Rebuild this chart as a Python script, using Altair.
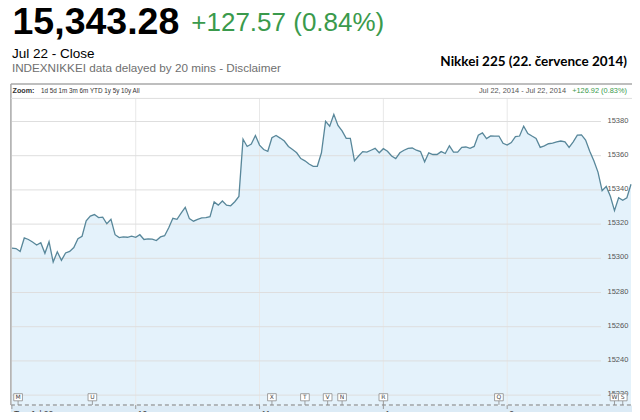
import altair as alt
import pandas as pd

# ---- data ----
# trading minutes since 09:00, lunch break 11:30-12:30 removed (300 trading minutes)
minutes = list(range(0, 302, 2))
values = [
    15305.9, 15305.7, 15304.0, 15311.9, 15311.0, 15309.5, 15307.8, 15309.1, 15302.9, 15309.7,
    15297.8, 15303.8, 15298.8, 15303.1, 15304.0, 15306.3, 15311.4, 15312.9, 15321.9, 15324.7,
    15325.6, 15323.8, 15324.1, 15320.2, 15322.8, 15313.8, 15312.1, 15312.5, 15312.3, 15312.9,
    15312.3, 15313.8, 15311.0, 15311.4, 15311.2, 15310.4, 15312.5, 15313.2, 15317.9, 15323.4,
    15322.8, 15326.4, 15329.8, 15323.2, 15321.7, 15322.8, 15323.6, 15323.8, 15324.3, 15333.0,
    15331.1, 15333.5, 15331.1, 15330.7, 15333.1, 15336.2, 15369.6, 15365.4, 15366.8, 15371.8,
    15366.2, 15363.6, 15362.6, 15370.5, 15371.8, 15370.3, 15368.6, 15365.4, 15363.6, 15361.7,
    15358.3, 15357.0, 15355.1, 15353.8, 15353.8, 15361.7, 15380.1, 15377.3, 15384.2, 15377.7,
    15374.5, 15370.1, 15370.1, 15357.0, 15359.8, 15362.4, 15362.1, 15363.2, 15364.3, 15361.7,
    15364.1, 15362.6, 15359.8, 15358.3, 15361.7, 15363.2, 15364.3, 15364.5, 15363.2, 15362.4,
    15356.4, 15361.7, 15360.7, 15360.7, 15362.4, 15361.3, 15365.8, 15362.1, 15362.1, 15364.9,
    15365.1, 15364.3, 15365.4, 15372.0, 15373.3, 15370.0, 15371.6, 15371.5, 15371.5, 15367.3,
    15366.2, 15367.7, 15371.1, 15371.5, 15377.3, 15373.0, 15371.5, 15370.1, 15364.9, 15365.8,
    15367.0, 15367.3, 15368.1, 15368.6, 15368.1, 15364.9, 15368.1, 15372.0, 15372.2, 15369.2,
    15362.6, 15357.0, 15350.4, 15339.5, 15342.0, 15336.3, 15327.9, 15335.4, 15333.9, 15335.4,
    15343.3,
]
y_ticks = [15220, 15240, 15260, 15280, 15300, 15320, 15340, 15360, 15380]
hour_minutes = [0, 60, 120, 180, 240]
hour_labels = ["Tue Jul 22", "10 am", "11 am", "1 pm", "2 pm"]
flag_letters = ["M", "U", "X", "T", "V", "N", "R", "Q", "W", "S"]
flag_minutes = [3, 39, 126, 142, 153, 160, 180, 236, 292, 296]
area_base = 15214

price_text = "15,343.28"
change_text = "+127.57 (0.84%)"
close_text = "Jul 22 - Close"
delay_text = "INDEXNIKKEI data delayed by 20 mins - Disclaimer"
caption_text = "Nikkei 225 (22. července 2014)"
zoom_label = "Zoom:"
zoom_items = "1d 5d 1m 3m 6m YTD 1y 5y 10y All"
range_text = "Jul 22, 2014  -  Jul 22, 2014"
range_change = "+126.92 (0.83%)"

# ---- styling ----
W, H = 624, 404
GREEN = "#3a9a4c"
xs = alt.Scale(domain=[0, 300], range=[3.9, 623.0], nice=False, zero=False)
ys = alt.Scale(domain=[15220, 15380], range=[387.1, 113.5], nice=False, zero=False)
one = pd.DataFrame({"k": [0]})


def label(text, x, y, size, color="#000", weight="normal", font="Liberation Sans", align="left"):
    return alt.Chart(pd.DataFrame({"s": [text]})).mark_text(
        align=align, baseline="alphabetic", font=font, fontSize=size,
        fontWeight=weight, color=color
    ).encode(x=alt.value(x), y=alt.value(y), text="s:N")


def hrule(x1, x2, y, color, width=1, dash=None):
    kw = dict(color=color, strokeWidth=width)
    if dash:
        kw["strokeDash"] = dash
    return alt.Chart(one).mark_rule(**kw).encode(x=alt.value(x1), x2=alt.value(x2), y=alt.value(y))


def vrule(x, y1, y2, color, width=1):
    return alt.Chart(one).mark_rule(color=color, strokeWidth=width).encode(
        x=alt.value(x), y=alt.value(y1), y2=alt.value(y2))


df = pd.DataFrame({"m": minutes, "v": values})
X = alt.X("m:Q", scale=xs, axis=None)
Yv = alt.Y("v:Q", scale=ys, axis=None)

area = alt.Chart(df).mark_area(color="#e4f2fb", opacity=1).encode(
    x=X, y=Yv, y2=alt.datum(area_base))
line = alt.Chart(df).mark_line(color="#58879a", strokeWidth=1.3).encode(x=X, y=Yv)

tick_df = pd.DataFrame({"t": y_ticks})
hgrid = alt.Chart(tick_df).mark_rule(color="#dedede", strokeWidth=1).encode(
    y=alt.Y("t:Q", scale=ys, axis=None), x=alt.value(3.9), x2=alt.value(593))
ylabels = alt.Chart(tick_df).mark_text(
    align="left", baseline="middle", font="Liberation Sans", fontSize=7.5, color="#555", dy=-1
).encode(y=alt.Y("t:Q", scale=ys, axis=None), x=alt.value(599.5), text=alt.Text("t:Q", format="d"))

hour_df = pd.DataFrame({"h": hour_minutes, "lab": hour_labels})
vgrid = alt.Chart(hour_df[hour_df.h > 0]).mark_rule(color="#e8e8e8").encode(
    x=alt.X("h:Q", scale=xs, axis=None), y=alt.value(90.4), y2=alt.value(397))

band = alt.Chart(one).mark_rect(color="#dcebf6").encode(
    x=alt.value(2.9), x2=alt.value(624), y=alt.value(397.5), y2=alt.value(404))
hour_ticks = alt.Chart(hour_df).mark_rule(color="#999").encode(
    x=alt.X("h:Q", scale=xs, axis=None), y=alt.value(397), y2=alt.value(401))
hour_text = alt.Chart(hour_df).mark_text(
    align="left", baseline="alphabetic", font="Liberation Sans", fontSize=8.5, color="#444", dx=2
).encode(x=alt.X("h:Q", scale=xs, axis=None), y=alt.value(408.5), text="lab:N")

flag_df = pd.DataFrame({"m": flag_minutes, "letter": flag_letters})
flag_box = alt.Chart(flag_df).transform_calculate(
    lo="datum.m - 2.1", hi="datum.m + 2.1"
).mark_rect(fill="white", stroke="#8a8a8a", strokeWidth=0.8).encode(
    x=alt.X("lo:Q", scale=xs, axis=None), x2="hi:Q", y=alt.value(385.7), y2=alt.value(392.8))
flag_stem = alt.Chart(flag_df).mark_rule(color="#8a8a8a", strokeWidth=0.8).encode(
    x=alt.X("m:Q", scale=xs, axis=None), y=alt.value(392.8), y2=alt.value(397))
flag_text = alt.Chart(flag_df).mark_text(
    font="DejaVu Sans", fontSize=6, color="#444", baseline="middle"
).encode(x=alt.X("m:Q", scale=xs, axis=None), y=alt.value(389.4), text="letter:N")

layers = [
    area, vgrid, hgrid, line, ylabels,
    band, hrule(2.9, 624, 397, "#7a7a7a", 1, [4, 3]), hour_ticks, hour_text,
    flag_stem, flag_box, flag_text,
    hrule(2.9, 624, 76, "#a8a8a8", 1.5),
    vrule(2.9, 76, 397, "#a8a8a8", 1.5),
    hrule(2.9, 624, 90.4, "#dddddd", 1),
    label(zoom_label, 4.5, 85.4, 7.2, "#333", "bold"),
    label(zoom_items, 33, 85.4, 6.3, "#333"),
    label(range_text, 558, 85.4, 7.4, "#555", align="right"),
    label(range_change, 619, 85.4, 7.4, GREEN, align="right"),
    label(price_text, 4.5, 25.7, 37.5, "#000", "bold"),
    label(change_text, 183.3, 23.1, 26, GREEN),
    label(close_text, 3.9, 49.7, 13.5, "#000"),
    label(delay_text, 3.9, 64.2, 11.7, "#6f6f6f"),
    label(caption_text, 619, 58, 13.5, "#000", "bold", font="Lato", align="right"),
]

chart = alt.layer(*layers).properties(
    width=W, height=H, autosize=alt.AutoSizeParams(type="none"), padding=0
).configure_view(stroke=None)

chart.save("out.html", embed_options={"renderer": "svg", "actions": False})
